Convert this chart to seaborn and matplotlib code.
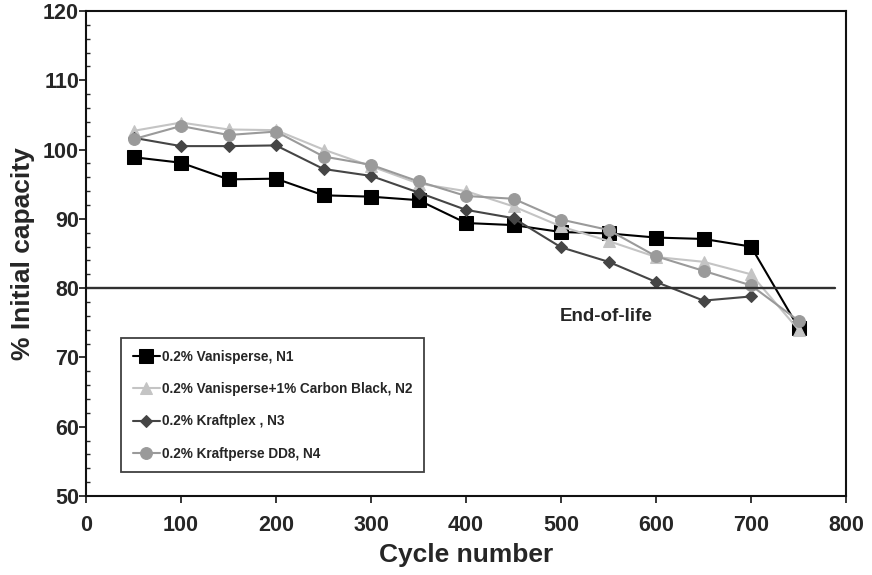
import matplotlib
matplotlib.use("Agg")
import matplotlib.pyplot as plt
import seaborn as sns
import pandas as pd
from matplotlib.ticker import MultipleLocator

cycles = [50, 100, 150, 200, 250, 300, 350, 400, 450, 500, 550, 600, 650, 700, 750]
n1 = [98.9, 98.1, 95.7, 95.8, 93.4, 93.2, 92.7, 89.4, 89.1, 88.1, 87.9, 87.3, 87.1, 86.0, 74.3]
n2 = [102.7, 103.9, 102.9, 102.8, 100.0, 97.6, 95.1, 94.0, 91.8, 88.9, 86.8, 84.5, 83.8, 82.0, 74.0]
n3 = [101.7, 100.5, 100.5, 100.6, 97.2, 96.2, 93.8, 91.3, 90.1, 85.9, 83.8, 80.9, 78.2, 78.8]
n4 = [101.5, 103.4, 102.1, 102.6, 99.0, 97.8, 95.4, 93.3, 92.9, 89.9, 88.4, 84.6, 82.5, 80.4, 75.3]

labels = ["0.2% Vanisperse, N1", "0.2% Vanisperse+1% Carbon Black, N2",
          "0.2% Kraftplex , N3", "0.2% Kraftperse DD8, N4"]
end_of_life = 80
xticks = [0, 100, 200, 300, 400, 500, 600, 700, 800]
yticks = [50, 60, 70, 80, 90, 100, 110, 120]

sns.set_theme(style="white")
plt.rcParams['font.family'] = ['Liberation Sans', 'DejaVu Sans']
plt.rcParams['font.weight'] = 'bold'

fig = plt.figure(figsize=(8.72, 5.75), dpi=100)
ax = fig.add_axes([86/872, 1 - 496/575, 760/872, 485/575])

series = [
    (n1, labels[0], "#000000", "s", 10),
    (n2, labels[1], "#c4c4c4", "^", 8.5),
    (n3, labels[2], "#454545", "D", 6.5),
    (n4, labels[3], "#9a9a9a", "o", 8.5),
]
for vals, lab, col, mk, ms in series:
    df = pd.DataFrame({"x": cycles[:len(vals)], "y": vals})
    sns.lineplot(data=df, x="x", y="y", ax=ax, color=col, marker=mk,
                 markersize=ms, markeredgecolor=col, linewidth=1.5, label=lab)

ax.axhline(end_of_life, xmin=0, xmax=0.986, color="#303030", linewidth=1.7)
ax.text(548, 75.9, "End-of-life", ha="center", va="center", fontsize=13.5, fontweight="bold")

ax.set_xlim(0, 800)
ax.set_ylim(50, 120)
ax.set_xticks(xticks)
ax.set_yticks(yticks)
ax.yaxis.set_minor_locator(MultipleLocator(2))
ax.tick_params(axis="x", which="major", direction="out", length=5, width=1.3,
               labelsize=15.5, pad=9, bottom=True)
ax.tick_params(axis="y", which="major", direction="out", length=5, width=1.3,
               labelsize=15.5, pad=0, left=True)
ax.tick_params(axis="y", which="minor", direction="in", length=3, width=1.0, left=True)
for lbl in ax.get_xticklabels():
    lbl.set_fontweight("bold")
for lbl in ax.get_yticklabels():
    lbl.set_fontweight("bold")
    lbl.set_verticalalignment("center_baseline")

for s in ax.spines.values():
    s.set_color("#111111")
    s.set_linewidth(1.5)

ax.set_xlabel("Cycle number", fontsize=19, fontweight="bold", labelpad=5)
ax.set_ylabel("% Initial capacity", fontsize=19, fontweight="bold", labelpad=6)

leg = ax.legend(loc="lower left", bbox_to_anchor=(0.046, 0.049), borderaxespad=0,
                frameon=True, fancybox=False, edgecolor="#111111",
                handlelength=2.0, handletextpad=0.15, labelspacing=1.35,
                borderpad=0.85, prop={"weight": "bold", "size": 9.8})
leg.get_frame().set_linewidth(1.3)

fig.savefig("out.png", dpi=100)
